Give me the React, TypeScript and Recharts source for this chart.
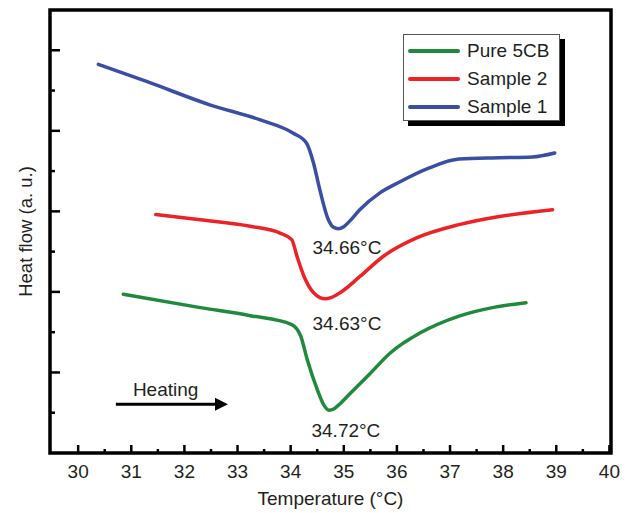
import React from 'react';
import {
  LineChart, Line, XAxis, YAxis, ReferenceArea, ReferenceDot, ReferenceLine, Legend, Label,
} from 'recharts';

// ---- Data ----
const xTicks = [30, 30.5, 31, 31.5, 32, 32.5, 33, 33.5, 34, 34.5, 35, 35.5, 36, 36.5, 37, 37.5, 38, 38.5, 39, 39.5, 40];
const yTicks = [1, 2, 3, 4, 5, 6, 7, 8, 9, 10];

const sample1T = [30.38, 31.30, 32.49, 33.43, 34.05, 34.30, 34.43, 34.55, 34.71, 34.80, 34.90, 35.00, 35.12, 35.30, 35.68, 36.05, 36.61, 37.17, 37.93, 38.55, 38.97];
const sample1HF = [9.65, 9.22, 8.64, 8.27, 7.94, 7.69, 7.20, 6.53, 5.79, 5.61, 5.57, 5.62, 5.77, 6.04, 6.46, 6.73, 7.08, 7.30, 7.33, 7.35, 7.45];

const sample2T = [31.46, 32.30, 33.24, 33.80, 34.02, 34.12, 34.25, 34.43, 34.55, 34.65, 34.76, 34.93, 35.31, 35.74, 36.37, 37.17, 37.93, 38.93];
const sample2HF = [5.92, 5.79, 5.63, 5.46, 5.30, 4.88, 4.39, 3.98, 3.86, 3.83, 3.86, 3.98, 4.39, 4.88, 5.34, 5.67, 5.87, 6.04];

const pureT = [30.85, 32.30, 33.24, 34.02, 34.19, 34.31, 34.50, 34.62, 34.72, 34.82, 34.95, 35.10, 35.45, 35.88, 36.45, 37.17, 37.80, 38.43];
const pureHF = [3.94, 3.61, 3.41, 3.19, 2.90, 2.33, 1.58, 1.20, 1.06, 1.10, 1.25, 1.45, 1.91, 2.49, 2.99, 3.40, 3.61, 3.73];

const seriesNames = ['Pure 5CB', 'Sample 2', 'Sample 1'];
const seriesColors = ['#1f8a3b', '#ec2227', '#3a4ea4'];

const peakLabels = ['34.66°C', '34.63°C', '34.72°C'];
const peakLabelT = [35.06, 35.06, 35.04];
const peakLabelHF = [5.12, 3.23, 0.57];

const heatingText = 'Heating';
const heatingPos = { t: 31.03, hf: 1.59 };
const arrowFrom = { t: 30.71, hf: 1.21 };
const arrowTo = { t: 32.82, hf: 1.21 };

const toData = (ts: number[], hs: number[]) => ts.map((t, i) => ({ t, hf: hs[i] }));
const sample1Data = toData(sample1T, sample1HF);
const sample2Data = toData(sample2T, sample2HF);
const pureData = toData(pureT, pureHF);

const FONT = '"Liberation Sans", Arial, sans-serif';
const TEXT = '#231f20';

const XTick = (props: any) => {
  const { x, y, payload } = props;
  const v = payload.value;
  const major = Math.abs(v - Math.round(v)) < 1e-6;
  return (
    <g>
      <line x1={x} y1={y} x2={x} y2={y - (major ? 8 : 4)} stroke="#000" strokeWidth={2.5} />
      {major && (
        <text x={x} y={y + 25} textAnchor="middle" fontSize={19} fill={TEXT} fontFamily={FONT}>
          {v}
        </text>
      )}
    </g>
  );
};

const YTick = (props: any) => {
  const { x, y, payload } = props;
  const major = payload.value % 2 === 0;
  return <line x1={x} y1={y} x2={x + (major ? 10 : 5)} y2={y} stroke="#000" strokeWidth={2.5} />;
};

const LegendBox = () => (
  <div
    style={{
      width: 155,
      height: 85,
      border: '1px solid #555',
      background: '#fff',
      boxShadow: '5px 5px 0 #000',
      fontFamily: FONT,
      boxSizing: 'content-box',
      position: 'relative',
    }}
  >
    {seriesNames.map((n, i) => (
      <div key={n} style={{ position: 'absolute', left: 4, top: 4 + i * 28, height: 24, display: 'flex', alignItems: 'center' }}>
        <div style={{ width: 52, height: 4, borderRadius: 2, background: seriesColors[i] }} />
        <span style={{ marginLeft: 7, fontSize: 19, color: TEXT, lineHeight: '24px' }}>{n}</span>
      </div>
    ))}
  </div>
);

const ArrowShape = (props: any) => {
  const { x1, y1, x2, y2 } = props;
  return (
    <g>
      <line x1={x1} y1={y1} x2={x2 - 10} y2={y2} stroke="#000" strokeWidth={3} />
      <polygon points={`${x2},${y2} ${x2 - 13},${y2 - 6.5} ${x2 - 13},${y2 + 6.5}`} fill="#000" />
    </g>
  );
};

export default function App() {
  return (
    <div style={{ position: 'absolute', left: 0, top: 0, fontFamily: FONT }}>
      <LineChart width={631} height={513} margin={{ top: 10, right: 20, left: 0, bottom: 0 }} style={{ fontFamily: FONT }}>
        <XAxis
          type="number"
          dataKey="t"
          domain={[29.47, 40.03]}
          ticks={xTicks}
          interval={0}
          allowDataOverflow
          axisLine={false}
          tickLine={false}
          tickSize={0}
          tickMargin={0}
          height={60}
          tick={XTick}
        >
          <Label
            content={(p: any) => {
              const vb = p.viewBox;
              return (
                <text x={vb.x + vb.width / 2} y={vb.y + 52} textAnchor="middle" fontSize={19} fill={TEXT} fontFamily={FONT}>
                  Temperature (°C)
                </text>
              );
            }}
          />
        </XAxis>
        <YAxis
          type="number"
          dataKey="hf"
          domain={[0, 11]}
          ticks={yTicks}
          interval={0}
          allowDataOverflow
          axisLine={false}
          tickLine={false}
          tickSize={0}
          tickMargin={0}
          width={50}
          tick={YTick}
        >
          <Label
            content={(p: any) => {
              const vb = p.viewBox;
              const cx = 25;
              const cy = vb.y + vb.height / 2;
              return (
                <text
                  x={cx}
                  y={cy}
                  transform={`rotate(-90 ${cx} ${cy})`}
                  textAnchor="middle"
                  dominantBaseline="central"
                  fontSize={18.5}
                  fill={TEXT}
                  fontFamily={FONT}
                >
                  Heat flow (a. u.)
                </text>
              );
            }}
          />
        </YAxis>
        <Line data={sample1Data} dataKey="hf" name={seriesNames[2]} type="monotone" stroke={seriesColors[2]} strokeWidth={3.5} dot={false} isAnimationActive={false} strokeLinecap="round" />
        <Line data={sample2Data} dataKey="hf" name={seriesNames[1]} type="monotone" stroke={seriesColors[1]} strokeWidth={3.5} dot={false} isAnimationActive={false} strokeLinecap="round" />
        <Line data={pureData} dataKey="hf" name={seriesNames[0]} type="monotone" stroke={seriesColors[0]} strokeWidth={3.5} dot={false} isAnimationActive={false} strokeLinecap="round" />
        {peakLabels.map((txt, i) => (
          <ReferenceDot
            key={txt}
            x={peakLabelT[i]}
            y={peakLabelHF[i]}
            r={0}
            fill="none"
            stroke="none"
            label={{ value: txt, position: 'center', fontSize: 19, fill: TEXT, fontFamily: FONT }}
          />
        ))}
        <ReferenceDot
          x={heatingPos.t}
          y={heatingPos.hf}
          r={0}
          fill="none"
          stroke="none"
          label={{ value: heatingText, position: 'right', offset: 0, fontSize: 19, fill: TEXT, fontFamily: FONT }}
        />
        <ReferenceLine
          segment={[{ x: arrowFrom.t, y: arrowFrom.hf }, { x: arrowTo.t, y: arrowTo.hf }]}
          stroke="#000"
          shape={ArrowShape}
        />
        <ReferenceArea x1={29.47} x2={40.03} y1={0} y2={11} fill="none" stroke="#000" strokeWidth={3.5} ifOverflow="visible" />
        <Legend
          layout="vertical"
          align="center"
          verticalAlign="middle"
          content={LegendBox}
          wrapperStyle={{ position: 'absolute', left: 403, top: 34, width: 160, height: 92 }}
        />
      </LineChart>
    </div>
  );
}
